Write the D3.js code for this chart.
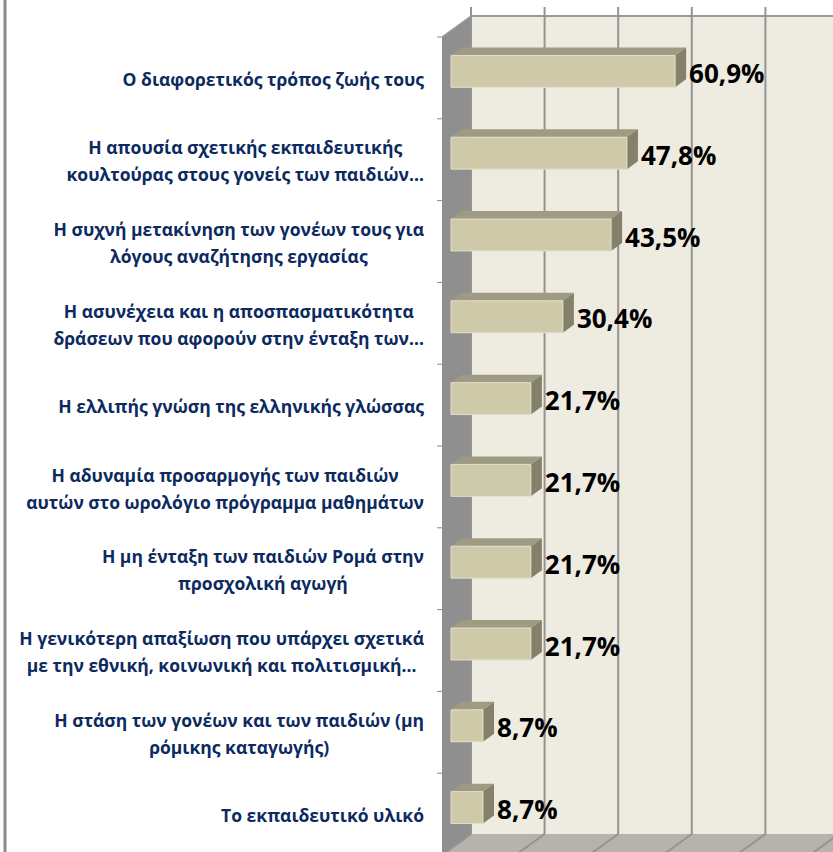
<!DOCTYPE html>
<html>
<head>
<meta charset="utf-8">
<script src="https://cdn.jsdelivr.net/npm/d3@7"></script>
<style>
  html, body { margin: 0; padding: 0; background: #fff; }
  svg { display: block; }
</style>
</head>
<body>
<svg id="chart" width="833" height="852"></svg>
<script>
// data, top to bottom
const categories = [
  'Ο διαφορετικός τρόπος ζωής τους',
  'Η απουσία σχετικής εκπαιδευτικής\nκουλτούρας στους γονείς των παιδιών…',
  'Η συχνή μετακίνηση των γονέων τους για\nλόγους αναζήτησης εργασίας',
  'Η ασυνέχεια και η αποσπασματικότητα\nδράσεων που αφορούν στην ένταξη των…',
  'Η ελλιπής γνώση της ελληνικής γλώσσας',
  'Η αδυναμία προσαρμογής των παιδιών\nαυτών στο ωρολόγιο πρόγραμμα μαθημάτων',
  'Η μη ένταξη των παιδιών Ρομά στην\nπροσχολική αγωγή',
  'Η γενικότερη απαξίωση που υπάρχει σχετικά\nμε την εθνική, κοινωνική και πολιτισμική…',
  'Η στάση των γονέων και των παιδιών (μη\nρόμικης καταγωγής)',
  'Το εκπαιδευτικό υλικό'
];
const values = [0.609, 0.478, 0.435, 0.304, 0.217, 0.217, 0.217, 0.217, 0.087, 0.087];
const gridTicks = [0, 0.2, 0.4, 0.6, 0.8, 1.0];

const svg = d3.select('#chart');

// 3d box: front plane and a depth offset
const plot = {left: 442, top: 37, bottom: 855};
const depth = {dx: 29, dy: -21};
const barDepth = [0.31, 0.69];

const x = d3.scaleLinear().domain([0, 1]).range([0, 368]);
const y = d3.scaleBand().domain(d3.range(categories.length)).range([plot.top, plot.bottom]);

// project (value, front y, depth 0..1) -> screen point
const P = (v, yy, d) => [plot.left + x(v) + depth.dx * d, yy + depth.dy * d];
const poly = (pts) => pts.map((p) => p.join(',')).join(' ');

const fmt = d3.formatLocale({decimal: ',', thousands: '.', grouping: [3], currency: ['', '€']}).format('.1%');

// border line at left
svg.append('line')
  .attr('x1', 5).attr('x2', 5).attr('y1', 0).attr('y2', 852)
  .attr('stroke', '#8a8a8a').attr('stroke-width', 3);

// back wall
const bw = P(0, plot.top, 1), bwEnd = P(0, plot.bottom, 1);
svg.append('rect')
  .attr('x', bw[0]).attr('y', bw[1])
  .attr('width', 900).attr('height', bwEnd[1] - bw[1])
  .attr('fill', '#eeebe0');

// floor
svg.append('polygon')
  .attr('points', poly([P(0, plot.bottom, 1), P(1.3, plot.bottom, 1), P(1.3, plot.bottom, 0), P(0, plot.bottom, 0)]))
  .attr('fill', '#b5b3ab');

// side wall
svg.append('polygon')
  .attr('points', poly([P(0, plot.top, 0), P(0, plot.top, 1), P(0, plot.bottom, 1), P(0, plot.bottom, 0)]))
  .attr('fill', '#8f8f8f');

// top edge of back wall
svg.append('line')
  .attr('x1', bw[0]).attr('x2', 833).attr('y1', bw[1]).attr('y2', bw[1])
  .attr('stroke', '#9a9a9a').attr('stroke-width', 2);
svg.append('line')
  .attr('x1', P(0, plot.top, 0)[0]).attr('y1', P(0, plot.top, 0)[1])
  .attr('x2', bw[0]).attr('y2', bw[1])
  .attr('stroke', '#9a9a9a').attr('stroke-width', 1.5);

// grid lines on wall and floor
const grid = svg.append('g').attr('stroke', '#949494').attr('stroke-width', 2);
gridTicks.forEach((t) => {
  const top = P(t, plot.top, 1), bot = P(t, plot.bottom, 1), fr = P(t, plot.bottom, 0);
  grid.append('line').attr('x1', top[0]).attr('x2', bot[0]).attr('y1', top[1] - 9).attr('y2', bot[1]);
  grid.append('line').attr('x1', bot[0]).attr('x2', fr[0]).attr('y1', bot[1]).attr('y2', fr[1]);
});

// category ticks
svg.append('g').selectAll('line')
  .data(d3.range(categories.length + 1))
  .join('line')
  .attr('x1', plot.left - 5).attr('x2', plot.left)
  .attr('y1', (i) => plot.top + i * y.step()).attr('y2', (i) => plot.top + i * y.step())
  .attr('stroke', '#8a8a8a').attr('stroke-width', 1);

// bars
const bh = y.bandwidth() * 0.39;
const bars = svg.append('g').selectAll('g')
  .data(values)
  .join('g');

bars.each(function(v, i) {
  const g = d3.select(this);
  const y0 = y(i) + (y.bandwidth() - bh) / 2, y1 = y0 + bh;
  const [d0, d1] = barDepth;
  g.append('polygon') // top
    .attr('points', poly([P(0, y0, d0), P(0, y0, d1), P(v, y0, d1), P(v, y0, d0)]))
    .attr('fill', '#9f9b83');
  g.append('polygon') // side
    .attr('points', poly([P(v, y0, d0), P(v, y0, d1), P(v, y1, d1), P(v, y1, d0)]))
    .attr('fill', '#838169');
  g.append('polygon') // front
    .attr('points', poly([P(0, y0, d0), P(v, y0, d0), P(v, y1, d0), P(0, y1, d0)]))
    .attr('fill', '#cec9a9')
    .attr('stroke', '#e2dfcc').attr('stroke-width', 1);
  const mid = P(v, (y0 + y1) / 2, d0);
  g.append('text')
    .attr('x', P(v, 0, d1)[0] + 3).attr('y', mid[1] + 2.5)
    .attr('dy', '0.35em')
    .attr('font-family', 'Open Sans, sans-serif')
    .attr('font-weight', 'bold')
    .attr('font-size', 26)
    .attr('fill', '#000')
    .text(fmt(v));
});

// category labels, right aligned block with centered lines
const labels = svg.append('g')
  .attr('font-family', 'Open Sans, sans-serif')
  .attr('font-weight', 'bold')
  .attr('font-size', 17.5)
  .attr('fill', '#0c2a5f');

categories.forEach((c, i) => {
  const lines = c.split('\n');
  const lh = 27;
  const cy = y(i) + y.bandwidth() / 2 + 2;
  const t = labels.append('text').attr('text-anchor', 'middle');
  lines.forEach((ln, j) => {
    t.append('tspan')
      .attr('y', cy + (j - (lines.length - 1) / 2) * lh)
      .attr('dy', '0.35em')
      .text(ln);
  });
  let w = 0;
  t.selectAll('tspan').each(function() { w = Math.max(w, this.getComputedTextLength()); });
  t.selectAll('tspan').attr('x', 424 - w / 2);
});
</script>
</body>
</html>
